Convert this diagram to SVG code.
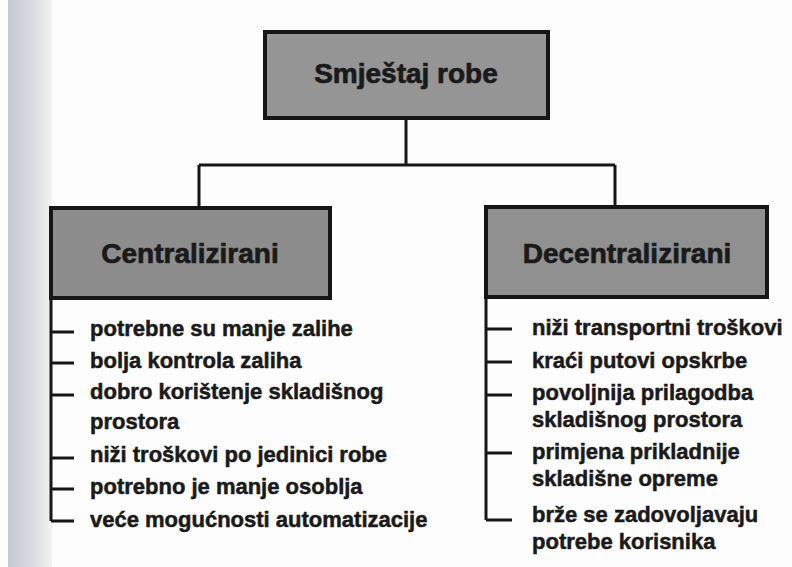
<svg xmlns="http://www.w3.org/2000/svg" width="792" height="567" viewBox="0 0 792 567">
  <defs>
    <linearGradient id="gutter" x1="0" y1="0" x2="1" y2="0">
      <stop offset="0" stop-color="#c3c8cf"/>
      <stop offset="0.6" stop-color="#dadde1"/>
      <stop offset="1" stop-color="#f2f3f4"/>
    </linearGradient>
  </defs>
  <style>
    .box { fill: #8d8d8d; stroke: #161616; stroke-width: 4; }
    .title { font-family: "Liberation Sans", Arial, sans-serif; font-weight: bold; font-size: 28px; fill: #1a1a1a; stroke: #1a1a1a; stroke-width: 0.7; text-anchor: middle; }
    .item { font-family: "Liberation Sans", Arial, sans-serif; font-weight: bold; font-size: 22px; fill: #1a1a1a; stroke: #1a1a1a; stroke-width: 0.5; }
    .line { fill: none; stroke: #161616; stroke-width: 3; }
  </style>
  <rect x="0" y="0" width="792" height="567" fill="#fdfdfd"/>
  <rect x="8" y="0" width="44" height="567" fill="url(#gutter)"/>

  <g id="connectors">
    <path class="line" d="M406,118 V165 M199,165 H615 M199,165 V208 M615,165 V207"/>
    <path class="line" d="M51,298 V521 M51,332 H74 M51,363 H74 M51,395 H74 M51,458 H74 M51,489 H74 M51,521 H74"/>
    <path class="line" d="M486,297 V520 M486,329 H512 M486,362 H512 M486,395 H512 M486,453 H512 M486,520 H512"/>
  </g>

  <g id="node-smjestaj">
    <rect class="box" x="265" y="32" width="283" height="86" style="fill:#959595"/>
    <text class="title" x="406" y="83">Smještaj robe</text>
  </g>

  <g id="node-centralizirani">
    <rect class="box" x="51" y="208" width="279" height="90"/>
    <text class="title" x="190" y="263">Centralizirani</text>
  </g>

  <g id="node-decentralizirani">
    <rect class="box" x="486" y="207" width="281" height="90" style="fill:#909090"/>
    <text class="title" x="627" y="263">Decentralizirani</text>
  </g>

  <g id="list-centralizirani">
    <text class="item" x="90" y="336">potrebne su manje zalihe</text>
    <text class="item" x="90" y="368">bolja kontrola zaliha</text>
    <text class="item" x="90" y="399">dobro korištenje skladišnog</text>
    <text class="item" x="90" y="429">prostora</text>
    <text class="item" x="90" y="462">niži troškovi po jedinici robe</text>
    <text class="item" x="90" y="494">potrebno je manje osoblja</text>
    <text class="item" x="90" y="527">veće mogućnosti automatizacije</text>
  </g>

  <g id="list-decentralizirani">
    <text class="item" x="532" y="335">niži transportni troškovi</text>
    <text class="item" x="532" y="368">kraći putovi opskrbe</text>
    <text class="item" x="532" y="400">povoljnija prilagodba</text>
    <text class="item" x="532" y="427">skladišnog prostora</text>
    <text class="item" x="532" y="459">primjena prikladnije</text>
    <text class="item" x="532" y="486">skladišne opreme</text>
    <text class="item" x="532" y="522">brže se zadovoljavaju</text>
    <text class="item" x="532" y="549">potrebe korisnika</text>
  </g>
</svg>
